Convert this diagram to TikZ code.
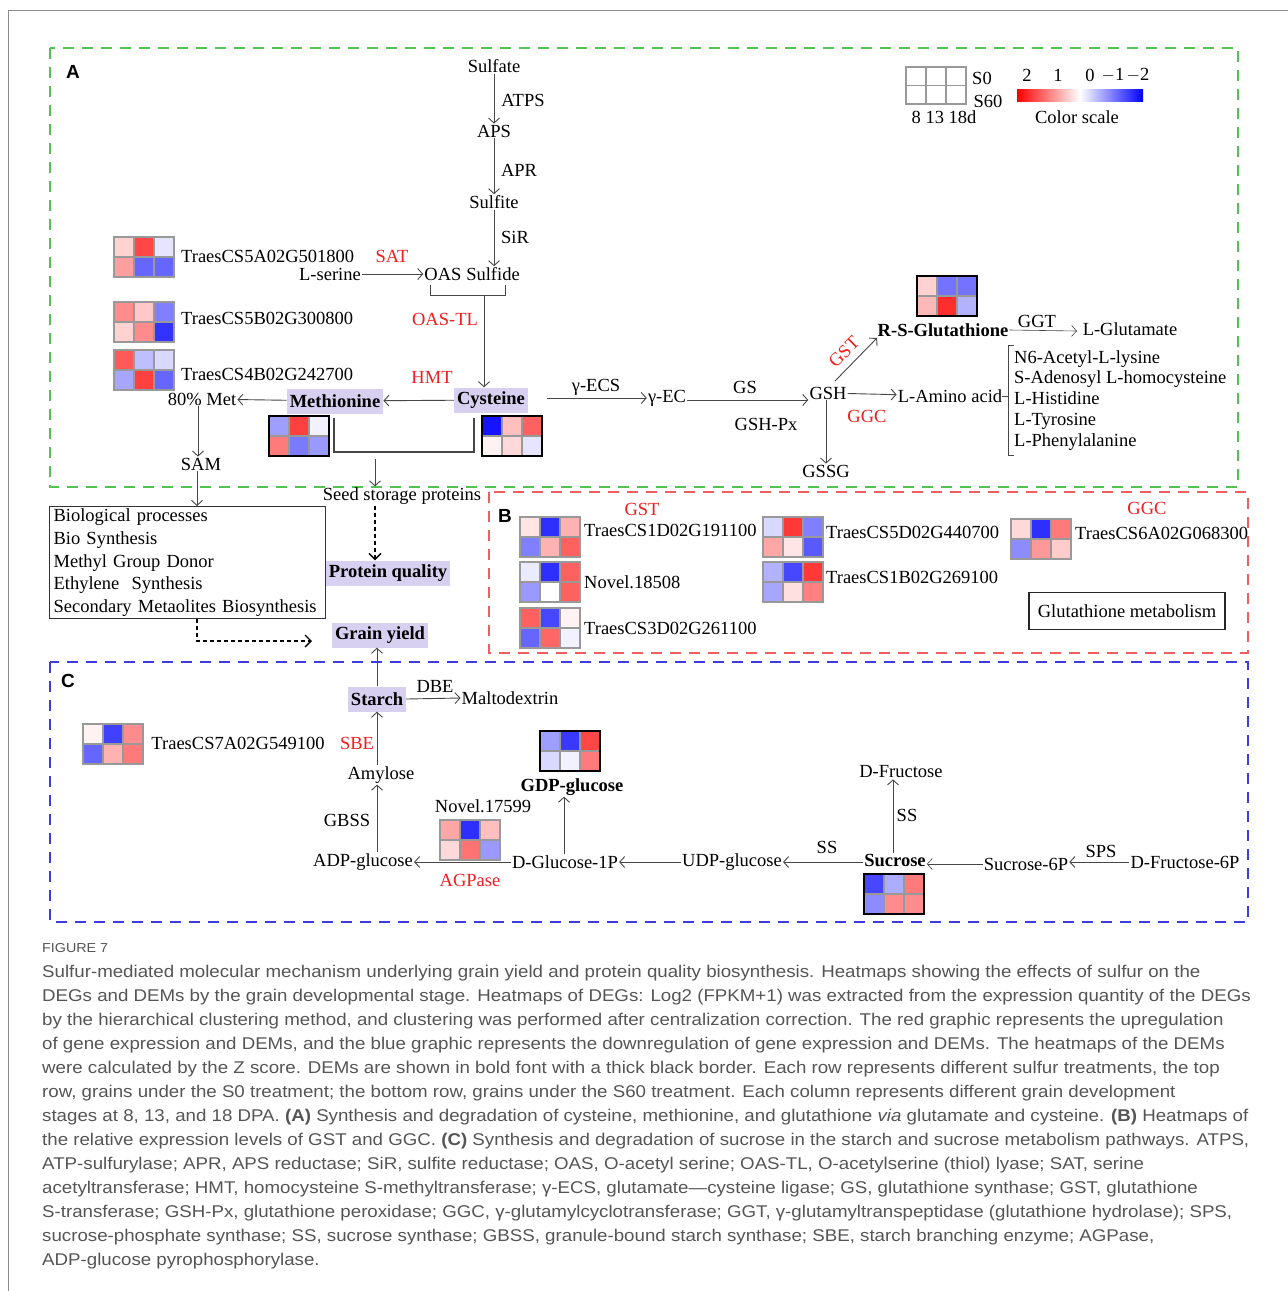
\documentclass[tikz,border=0pt]{standalone}
\usepackage{fontspec}
\setmainfont{Liberation Serif}
\newfontfamily\capfont[FakeStretch=1.10]{Liberation Sans}
\newfontfamily\labfont{Liberation Sans}
\usetikzlibrary{arrows.meta,calc}
\definecolor{myred}{RGB}{240,30,30}
\definecolor{lav}{RGB}{216,208,240}
\definecolor{gboxc}{RGB}{80,195,80}
\definecolor{rboxc}{RGB}{240,95,95}
\definecolor{bboxc}{RGB}{60,60,225}
\definecolor{capc}{RGB}{85,85,85}
\definecolor{linec}{RGB}{70,70,70}
\tikzset{
  hmgrid/.style={draw=black!40,line width=1.3pt},
  hmthin/.style={draw=black!40,line width=1.6pt},
  hmthick/.style={draw=black,line width=2.4pt},
  hmframe/.style={rectangle,minimum width=60pt,minimum height=40pt,inner sep=0pt,outer sep=0pt},
  arr/.style={draw=linec,line width=0.9pt,-{Straight Barb[length=5pt,width=11pt]}},
  dasharr/.style={draw=black,line width=1.3pt,dash pattern=on 4pt off 3pt,-{Straight Barb[length=6pt,width=12pt]}},
  plain/.style={draw=linec,line width=1pt},
  enz/.style={text=myred},
  met/.style={font=\fontsize{18.5}{21}\selectfont\bfseries},
  lavbox/.style={fill=lav,font=\fontsize{18.5}{21}\selectfont\bfseries,inner xsep=3pt,minimum height=25pt},
  secbox/.style={line width=1.4pt,dash pattern=on 11pt off 8pt},
  panel/.style={font=\fontsize{19}{21}\selectfont\labfont\bfseries},
  capline/.style={anchor=base west,text=capc,font=\fontsize{17}{24}\selectfont\capfont,inner sep=0pt},
}
\newcommand\hmcells[9]{%
  \fill[#4] (#2,#3) rectangle ++(20,20);
  \fill[#5] (#2+20,#3) rectangle ++(20,20);
  \fill[#6] (#2+40,#3) rectangle ++(20,20);
  \fill[#7] (#2,#3+20) rectangle ++(20,20);
  \fill[#8] (#2+20,#3+20) rectangle ++(20,20);
  \fill[#9] (#2+40,#3+20) rectangle ++(20,20);
  \draw[hmgrid] (#2+20,#3) -- ++(0,40) (#2+40,#3) -- ++(0,40) (#2,#3+20) -- ++(60,0);
  \node[hmframe,hmcur,anchor=north west] (#1) at (#2,#3) {};
}
\newcommand\degmap{\tikzset{hmcur/.style={hmthin,draw}}\hmcells}
\newcommand\demmap{\tikzset{hmcur/.style={hmthick,draw}}\hmcells}
\begin{document}
\begin{tikzpicture}[x=1pt,y=-1pt,every node/.style={font=\fontsize{18.5}{21}\selectfont,inner sep=1pt}]
\useasboundingbox (0,0) rectangle (1288,1291);
\fill[white] (0,0) rectangle (1288,1291);
% page frame
\draw[black!45,line width=1pt] (1288,10) -- (8,10) -- (8,1291);

% section boxes
\draw[secbox,draw=gboxc] (50,48) rectangle (1238,487);
\draw[secbox,draw=rboxc] (489,492) rectangle (1248,653);
\draw[secbox,draw=bboxc] (50,662) rectangle (1248,922);
\node[panel] (pA) at (73,72) {A};
\node[panel] (pB) at (505,516) {B};
\node[panel] (pC) at (68,681) {C};

% legend
\draw[hmthin] (906,67) rectangle (966,104);
\draw[hmgrid] (926,67) -- (926,104) (946,67) -- (946,104) (906,85.5) -- (966,85.5);
\node (ls0) at (982,78) {S0};
\node (ls60) at (988,101) {S60};
\node (lday) at (944,117) {8 13 18d};
\shade[left color=red,right color=blue,middle color=white] (1017,89) rectangle (1143,101);
\node (l2) at (1027,75) {2};
\node (l1) at (1058,75) {1};
\node (l0) at (1090,75) {0};
\node (lm1) at (1113,75) {$-$1};
\node (lm2) at (1138,75) {$-$2};
\node (lcs) at (1077,117) {Color scale};

% sulfur pathway
\node (sulfate) at (494,66) {Sulfate};
\node (aps) at (494,131) {APS};
\node (sulfite) at (494,202) {Sulfite};
\node (sulfide) at (493,274) {Sulfide};
\node (oas) at (443,274) {OAS};
\draw[arr] (sulfate) -- (aps);
\draw[arr] (aps) -- (sulfite);
\draw[arr] (sulfite.south) -- (sulfite.south |- sulfide.north);
\node (atps) at (523,100) {ATPS};
\node (apr) at (519,170) {APR};
\node (sir) at (515,237) {SiR};
\node (lser) at (330,274) {L-serine};
\draw[arr] (lser) -- (oas);
\node[enz] (sat) at (392,256) {SAT};
\draw[plain] (430,285) -- (430,295) -- (505,295) -- (505,285);
\coordinate (brk) at (484,295);
\node[enz] (oastl) at (445,319) {OAS-TL};
\node[lavbox] (cys) at (491,400) {Cysteine};
\node[lavbox] (meth) at (335,401) {Methionine};
\draw[arr] (brk) -- (brk |- cys.north);
\draw[arr] (cys) -- (meth);
\node[enz] (hmt) at (432,377) {HMT};
\node (met80) at (202,399) {80\% Met};
\draw[arr] (meth) -- (met80);
\node (sam) at (201,464) {SAM};
\draw[arr] (met80.south -| 198,0) -- (sam.north -| 198,0);
\node[draw=black!80,line width=1.2pt,anchor=north west,align=left,text width=268pt,inner xsep=4pt,inner ysep=2pt,font=\fontsize{18.5}{22.8}\selectfont] (bio) at (49,506)
 {Biological processes\\Bio Synthesis\\Methyl Group Donor\\Ethylene\ \ Synthesis\\Secondary Metaolites Biosynthesis};
\draw[arr] (sam.south -| 197,0) -- (bio.north -| 197,0);

% left heatmaps
\degmap{hmA}{114}{237}{red!18}{red!72}{blue!10}{red!38}{blue!60}{blue!60}
\node[anchor=west] (gA) at (180,256) {TraesCS5A02G501800};
\degmap{hmB}{114}{302}{red!45}{red!22}{blue!50}{red!18}{red!45}{blue!80}
\node[anchor=west] (gB) at (180,318) {TraesCS5B02G300800};
\degmap{hmC}{114}{350}{red!65}{blue!25}{blue!15}{blue!35}{red!75}{blue!60}
\node[anchor=west] (gC) at (180,374) {TraesCS4B02G242700};

% methionine / cysteine heatmaps
\demmap{hmMet}{269}{416}{blue!38}{red!75}{blue!5}{red!52}{blue!52}{blue!40}
\demmap{hmCys}{482}{416}{blue!92}{red!25}{red!62}{red!5}{red!15}{blue!10}
\draw[plain,line width=1.6pt] (334,418) -- (334,452) -- (474,452) -- (474,418);
\coordinate (ssp) at (375,459);
\node (seed) at (402,496) {Seed storage proteins};
\draw[arr] (ssp) -- (ssp |- seed.north);
\node[lavbox] (protq) at (388,573) {Protein quality};
\node[lavbox] (grain) at (380,635) {Grain yield};
\draw[dasharr] (seed.south -| 375,0) -- (protq.north -| 375,0);
\coordinate (gyin) at (312,641);
\draw[dasharr] (bio.south -| 197,0) -- (197,641) -- (gyin);

% glutathione pathway
\node (gec) at (667,398) {γ-EC};
\draw[arr] (547,398) -- (gec);
\node (gecs) at (596,387) {γ-ECS};
\node (gsh) at (828,393) {GSH};
\draw[arr] (gec.east |- 0,400) -- (gsh.west |- 0,400);
\node (gs) at (745,387) {GS};
\node (gshpx) at (766,424) {GSH-Px};
\node[met] (rsg) at (943,330) {R-S-Glutathione};
\draw[arr] (835,381) -- (877,338);
\node[enz,rotate=45] (gst) at (844,352) {GST};
\demmap{hmRsg}{917}{276}{red!18}{blue!55}{blue!55}{red!28}{red!82}{blue!30}
\node (glu) at (1130,329) {L-Glutamate};
\draw[arr,line width=0.6pt] (rsg.east) -- (1077,331);
\node (ggt) at (1037,321) {GGT};
\node (laa) at (950,396) {L-Amino acid};
\draw[arr] (gsh) -- (laa);
\node[enz] (ggc) at (867,416) {GGC};
\draw[plain] (1014,345) -- (1008,345) -- (1008,455) -- (1014,455);
\draw[plain] (1002,396) -- (1008,396);
\node[anchor=north west,align=left,font=\fontsize{18.5}{20.8}\selectfont] (aalist) at (1013,349)
 {N6-Acetyl-L-lysine\\S-Adenosyl L-homocysteine\\L-Histidine\\L-Tyrosine\\L-Phenylalanine};
\node (gssg) at (826,471) {GSSG};
\draw[arr] (gsh.south -| 826,0) -- (gssg.north -| 826,0);

% section B
\node[enz] (bgst) at (642,509) {GST};
\node[enz] (bggc) at (1147,508) {GGC};
\degmap{hmB1}{520}{517}{red!10}{blue!82}{red!30}{blue!50}{red!30}{red!62}
\node[anchor=west] (gB1) at (583,530) {TraesCS1D02G191100};
\degmap{hmB2}{520}{562}{blue!8}{blue!82}{red!62}{blue!40}{white}{red!62}
\node[anchor=west] (gB2) at (583,582) {Novel.18508};
\degmap{hmB3}{520}{608}{red!62}{blue!72}{red!5}{blue!60}{red!60}{blue!5}
\node[anchor=west] (gB3) at (583,628) {TraesCS3D02G261100};
\degmap{hmB4}{763}{517}{blue!15}{red!78}{blue!50}{red!35}{red!10}{blue!65}
\node[anchor=west] (gB4) at (825,532) {TraesCS5D02G440700};
\degmap{hmB5}{763}{562}{blue!30}{blue!72}{red!78}{blue!35}{red!12}{red!50}
\node[anchor=west] (gB5) at (825,577) {TraesCS1B02G269100};
\degmap{hmB6}{1011}{519}{red!15}{blue!82}{red!52}{blue!45}{red!40}{red!20}
\node[anchor=west] (gB6) at (1074,533) {TraesCS6A02G068300};
\node[draw=black!85,line width=1.2pt,minimum width=196pt,minimum height=37pt] (gmet) at (1127,611) {Glutathione metabolism};

% section C
\node[lavbox] (starch) at (377,699) {Starch};
\draw[arr] (starch.north) -- (starch.north |- grain.south);
\node (malto) at (510,698) {Maltodextrin};
\draw[arr] (starch.east) -- (malto.west);
\node (dbe) at (435,686) {DBE};
\degmap{hmS1}{83}{724}{red!5}{blue!75}{red!45}{blue!60}{red!30}{red!52}
\node (gS1) at (238,743) {TraesCS7A02G549100};
\node[enz] (sbe) at (357,743) {SBE};
\node (amyl) at (381,775) {Amylose};
\draw[arr] (amyl.north -| starch.south) -- (starch.south);
\node (adp) at (363,862) {ADP-glucose};
\draw[arr] (adp.north -| starch.south) -- (amyl.south -| starch.south);
\node (gbss) at (347,820) {GBSS};
\node (glc) at (565,862) {D-Glucose-1P};
\draw[arr] (glc.west) -- (adp.east);
\degmap{hmN}{440}{820}{red!35}{blue!82}{red!25}{red!15}{red!55}{blue!40}
\node (nov) at (483,806) {Novel.17599};
\node[enz] (agp) at (470,880) {AGPase};
\node[met] (gdp) at (572,787) {GDP-glucose};
\demmap{hmG}{540}{731}{blue!38}{blue!78}{red!72}{blue!15}{blue!5}{red!52}
\draw[arr] (glc.north -| 564,0) -- (gdp.south -| 564,0);
\node (udp) at (732,862) {UDP-glucose};
\draw[arr] (udp.west) -- (glc.east);
\node[met] (suc) at (895,860) {Sucrose};
\draw[arr] (suc.west |- 0,862) -- (udp.east |- 0,862);
\node (ss1) at (827,847) {SS};
\node (dfru) at (901,772) {D-Fructose};
\draw[arr] (suc.north -| 893,0) -- (dfru.south -| 893,0);
\node (ss2) at (907,815) {SS};
\demmap{hmSuc}{864}{874}{blue!72}{blue!32}{red!52}{blue!45}{red!45}{red!45}
\node (s6p) at (1026,864) {Sucrose-6P};
\draw[arr,line width=0.6pt] (s6p.west) -- (suc.east |- s6p.west);
\node (f6p) at (1185,862) {D-Fructose-6P};
\draw[arr] (f6p.west) -- (s6p.east |- f6p.west);
\node (sps) at (1101,851) {SPS};

% caption
\node[capline,font=\fontsize{13}{15}\selectfont\capfont] (fig) at (42,952) {FIGURE 7};
\node[capline] (c1) at (42,977) {Sulfur-mediated molecular mechanism underlying grain yield and protein quality biosynthesis. Heatmaps showing the effects of sulfur on the};
\node[capline] (c2) at (42,1001) {DEGs and DEMs by the grain developmental stage. Heatmaps of DEGs: Log2 (FPKM+1) was extracted from the expression quantity of the DEGs};
\node[capline] (c3) at (42,1025) {by the hierarchical clustering method, and clustering was performed after centralization correction. The red graphic represents the upregulation};
\node[capline] (c4) at (42,1049) {of gene expression and DEMs, and the blue graphic represents the downregulation of gene expression and DEMs. The heatmaps of the DEMs};
\node[capline] (c5) at (42,1073) {were calculated by the Z score. DEMs are shown in bold font with a thick black border. Each row represents different sulfur treatments, the top};
\node[capline] (c6) at (42,1097) {row, grains under the S0 treatment; the bottom row, grains under the S60 treatment. Each column represents different grain development};
\node[capline] (c7) at (42,1121) {stages at 8, 13, and 18 DPA. \textbf{(A)} Synthesis and degradation of cysteine, methionine, and glutathione \textit{via} glutamate and cysteine. \textbf{(B)} Heatmaps of};
\node[capline] (c8) at (42,1145) {the relative expression levels of GST and GGC. \textbf{(C)} Synthesis and degradation of sucrose in the starch and sucrose metabolism pathways. ATPS,};
\node[capline] (c9) at (42,1169) {ATP-sulfurylase; APR, APS reductase; SiR, sulfite reductase; OAS, O-acetyl serine; OAS-TL, O-acetylserine (thiol) lyase; SAT, serine};
\node[capline] (c10) at (42,1193) {acetyltransferase; HMT, homocysteine S-methyltransferase; γ-ECS, glutamate—cysteine ligase; GS, glutathione synthase; GST, glutathione};
\node[capline] (c11) at (42,1217) {S-transferase; GSH-Px, glutathione peroxidase; GGC, γ-glutamylcyclotransferase; GGT, γ-glutamyltranspeptidase (glutathione hydrolase); SPS,};
\node[capline] (c12) at (42,1241) {sucrose-phosphate synthase; SS, sucrose synthase; GBSS, granule-bound starch synthase; SBE, starch branching enzyme; AGPase,};
\node[capline] (c13) at (42,1265) {ADP-glucose pyrophosphorylase.};
\end{tikzpicture}
\end{document}
